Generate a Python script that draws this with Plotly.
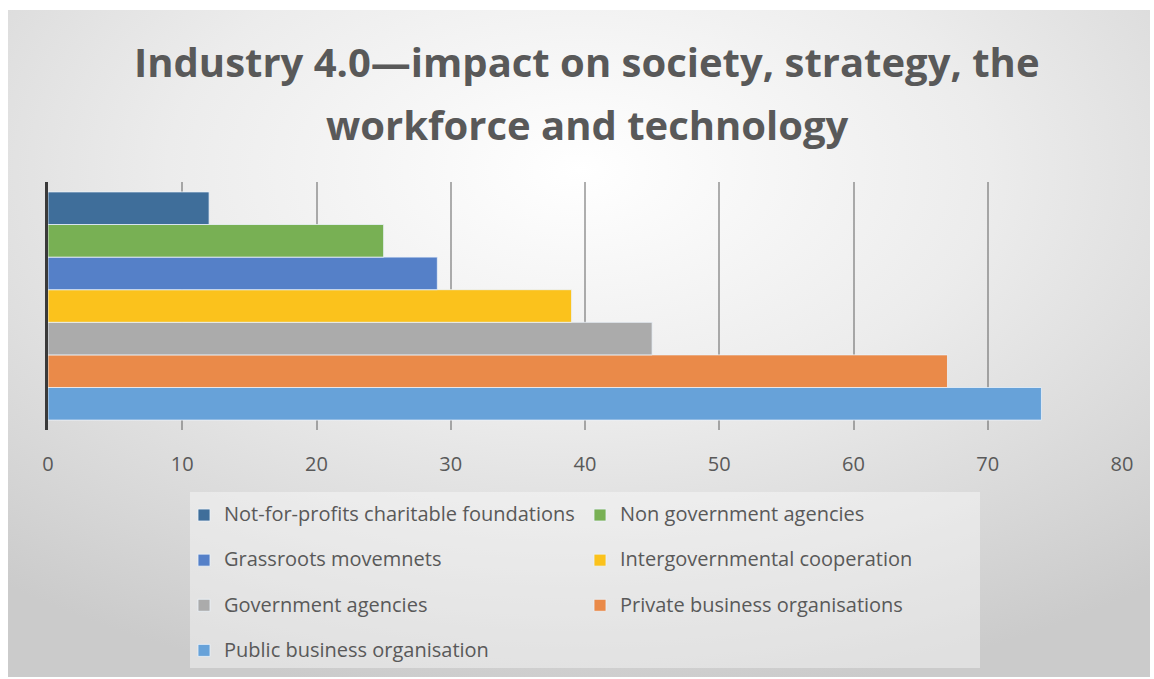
import base64
import plotly.graph_objects as go

# ---- data (top-to-bottom order as shown in chart / legend) ----
series_names = [
    "Not-for-profits charitable foundations",
    "Non government agencies",
    "Grassroots movemnets",
    "Intergovernmental cooperation",
    "Government agencies",
    "Private business organisations",
    "Public business organisation",
]
series_values = [12, 25, 29, 39, 45, 67, 74]
series_colors = ["#3F6E9A", "#78B054", "#5580C8", "#FBC21C", "#ABABAB", "#EA8A49", "#67A2D9"]
category = ["Industry 4.0"]
x_ticks = [0, 10, 20, 30, 40, 50, 60, 70, 80]
title_lines = ["Industry 4.0\u2014impact on society, strategy, the", "workforce and technology"]

W, H = 1154, 679
L, R, T, B = 48, 32, 182, 249
pw, ph = W - L - R, H - T - B

def px_to_paper_x(px):
    return (px - L) / pw

def px_to_paper_y(py):
    return (H - B - py) / ph

FONT = "'Open Sans', Lato, sans-serif"

fig = go.Figure()
# add bottom-most first (plotly groups first trace at bottom for horizontal bars)
for name, val, col in reversed(list(zip(series_names, series_values, series_colors))):
    fig.add_trace(go.Bar(
        y=category, x=[val], orientation="h",
        name=f"<span style='font-size:20px'>{name}</span><br> ",
        marker=dict(color=col, line=dict(color="rgba(235,242,250,0.8)", width=1)),
        showlegend=True,
    ))

# background gradient as SVG image
svg = (
    '<svg xmlns="http://www.w3.org/2000/svg" width="1142" height="667" preserveAspectRatio="none" viewBox="0 0 1142 667">'
    '<defs><radialGradient id="g" cx="50%" cy="24%" r="80%">'
    '<stop offset="0%" stop-color="#ffffff"/>'
    '<stop offset="45%" stop-color="#ececec"/>'
    '<stop offset="100%" stop-color="#cbcbcb"/>'
    '</radialGradient></defs>'
    '<rect x="0" y="0" width="1142" height="667" fill="url(#g)"/>'
    '</svg>'
)
src = "data:image/svg+xml;base64," + base64.b64encode(svg.encode()).decode()
fig.add_layout_image(dict(
    source=src, xref="paper", yref="paper",
    x=px_to_paper_x(8), y=px_to_paper_y(10),
    sizex=1142 / pw, sizey=667 / ph,
    xanchor="left", yanchor="top", sizing="stretch", layer="below",
))

# legend panel
fig.add_shape(
    type="rect", xref="paper", yref="paper",
    x0=px_to_paper_x(190), x1=px_to_paper_x(980),
    y0=px_to_paper_y(492), y1=px_to_paper_y(668),
    fillcolor="rgba(255,255,255,0.4)", line=dict(width=0), layer="below",
)

title_font = dict(family=FONT, size=40, color="#595959")
for line, ypx in zip(title_lines, [61, 124]):
    fig.add_annotation(
        text=f"<b>{line}</b>", xref="paper", yref="paper",
        x=px_to_paper_x(587), y=px_to_paper_y(ypx),
        xanchor="center", yanchor="middle", showarrow=False, font=title_font,
    )

fig.update_layout(
    width=W, height=H,
    margin=dict(l=L, r=R, t=T, b=B, pad=0, autoexpand=False),
    paper_bgcolor="white", plot_bgcolor="rgba(0,0,0,0)",
    barmode="group", bargap=0.08, bargroupgap=0,
    showlegend=True,
    legend=dict(
        orientation="h", traceorder="reversed",
        x=px_to_paper_x(184), y=px_to_paper_y(498), xanchor="left", yanchor="top",
        entrywidth=351, valign="top",
        bgcolor="rgba(0,0,0,0)", borderwidth=0,
        font=dict(family=FONT, size=16.2, color="#595959"),
    ),
    xaxis=dict(
        range=[0, 80], tickvals=x_ticks, showgrid=True,
        gridcolor="rgba(80,80,80,0.45)", gridwidth=1.5, zeroline=False, showline=False,
        tickfont=dict(family=FONT, size=20, color="#595959"),
        ticklabelstandoff=20, fixedrange=True,
    ),
    yaxis=dict(
        type="category", range=[-0.5, 0.5], showticklabels=False, showgrid=False,
        zeroline=False, showline=True, linecolor="#3a3a3a", linewidth=3, fixedrange=True,
    ),
)

fig.write_html("out.html")
